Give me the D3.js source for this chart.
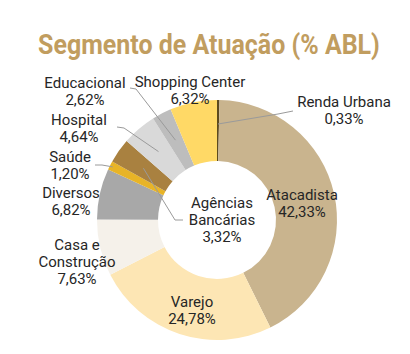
<!DOCTYPE html>
<html>
<meta charset="utf-8">
<style>
  body { margin: 0; padding: 0; background: #ffffff; }
  text { font-family: Roboto, sans-serif; fill: #262626; }
  .title { font-size: 28px; font-weight: 700; fill: #c19d5f; }
  .lbl { font-size: 15px; }
</style>
<body>
<div id="chart"></div>
<script src="https://d3js.org/d3.v7.min.js"></script>
<script>

// data, clockwise from 12 o'clock
var categories = ["Renda Urbana", "Atacadista", "Varejo", "Casa e Construção", "Diversos",
                  "Saúde", "Agências Bancárias", "Hospital", "Educacional", "Shopping Center"];
var values = [0.33, 42.33, 24.78, 7.63, 6.82, 1.20, 3.32, 4.64, 2.62, 6.32];
var valueLabels = ["0,33%", "42,33%", "24,78%", "7,63%", "6,82%", "1,20%", "3,32%", "4,64%", "2,62%", "6,32%"];
var colors = ["#5c4a1e", "#c9b48e", "#fde6b4", "#f5f1ea", "#a8a8a8",
              "#e8b427", "#a98140", "#d9d9d9", "#bdbdbd", "#ffd966"];

// label layout: name lines, centre x, first baseline
var labelLayout = [
  {lines: ["Renda Urbana"], x: 344, y: 107},
  {lines: ["Atacadista"], x: 302, y: 200},
  {lines: ["Varejo"], x: 192, y: 307},
  {lines: ["Casa e", "Construção"], x: 77, y: 250},
  {lines: ["Diversos"], x: 71, y: 198},
  {lines: ["Saúde"], x: 70, y: 162},
  {lines: ["Agências", "Bancárias"], x: 222, y: 208},
  {lines: ["Hospital"], x: 79, y: 125},
  {lines: ["Educacional"], x: 85, y: 88},
  {lines: ["Shopping Center"], x: 190, y: 87}
];

// leader lines: segment index, label-side points, radius of the end point
var leaders = [
  {i: 0, pts: [[293, 111], [278, 114]], r: 96},
  {i: 8, pts: [[130, 88], [136, 89]], r: 90},
  {i: 7, pts: [[117, 127], [124, 128]], r: 90},
  {i: 5, pts: [[95, 165], [102, 165]], r: 117},
  {i: 6, pts: [[183, 220], [175, 220]], r: 90}
];

var width = 410, height = 354;
var cx = 217, cy = 220, outerR = 120, innerR = 59;

var svg = d3.select("#chart").append("svg")
    .attr("width", width)
    .attr("height", height);

// title, squeezed horizontally to the reference width (condensed face)
var title = svg.append("text")
    .attr("class", "title")
    .attr("text-anchor", "middle")
    .text("Segmento de Atuação (% ABL)");
var tw = title.node().getComputedTextLength();
title.attr("transform", "translate(209,54) scale(" + (342 / tw) + ",1)");

var pie = d3.pie().sort(null).value(function(d) { return d; });
var arcs = pie(values);
var arc = d3.arc().innerRadius(innerR).outerRadius(outerR);

var g = svg.append("g").attr("transform", "translate(" + cx + "," + cy + ")");

g.selectAll("path.slice")
  .data(arcs)
  .enter()
  .append("path")
    .attr("class", "slice")
    .attr("d", arc)
    .attr("fill", function(d, i) { return colors[i]; });

// leader lines
leaders.forEach(function(l) {
  var a = arcs[l.i];
  var mid = (a.startAngle + a.endAngle) / 2;
  var end = [cx + l.r * Math.sin(mid), cy - l.r * Math.cos(mid)];
  svg.append("path")
    .attr("d", d3.line()(l.pts.concat([end])))
    .attr("fill", "none")
    .attr("stroke", "#9a9a9a")
    .attr("stroke-width", 1);
});

// labels
labelLayout.forEach(function(L, i) {
  var t = svg.append("text")
    .attr("class", "lbl")
    .attr("text-anchor", "middle");
  L.lines.concat([valueLabels[i]]).forEach(function(s, k) {
    t.append("tspan")
      .attr("x", L.x)
      .attr("y", L.y + k * 17)
      .text(s);
  });
});

</script>
</body>
</html>
